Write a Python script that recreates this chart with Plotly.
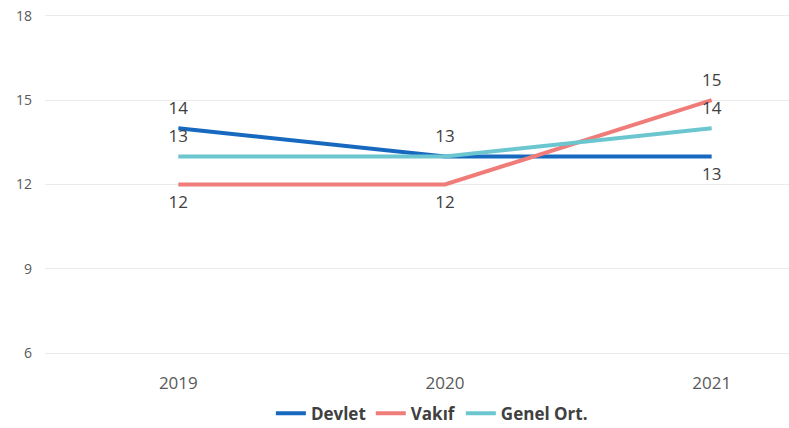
import plotly.graph_objects as go

years = ["2019", "2020", "2021"]
devlet = [14, 13, 13]
vakif = [12, 12, 15]
genel = [13, 13, 14]

devlet_text = ["14", "", "13"]
devlet_pos = ["top center", "top center", "bottom center"]
vakif_text = ["12", "12", "15"]
vakif_pos = ["bottom center", "bottom center", "top center"]
genel_text = ["13", "13", "14"]
genel_pos = ["top center", "top center", "top center"]

label_font = dict(family="Open Sans", size=17, color="#404040")

fig = go.Figure()
for name, vals, txt, pos, col in [
    ("Devlet", devlet, devlet_text, devlet_pos, "#1769C0"),
    ("Vakıf", vakif, vakif_text, vakif_pos, "#F07C7A"),
    ("Genel Ort.", genel, genel_text, genel_pos, "#6CC6CF"),
]:
    fig.add_trace(go.Scatter(x=[0, 1, 2], y=vals, name=name, mode="lines+markers+text",
                             line=dict(color=col, width=4),
                             marker=dict(size=15, color="rgba(0,0,0,0)"),
                             text=txt, textposition=pos, textfont=label_font,
                             hoverinfo="skip"))

fig.update_layout(
    width=789, height=428,
    margin=dict(l=45, r=0, t=13, b=72, autoexpand=False),
    paper_bgcolor="white", plot_bgcolor="white",
    font=dict(family="Open Sans", color="#595959"),
    xaxis=dict(range=[-0.5, 2.29], tickvals=[0, 1, 2], ticktext=years,
               showgrid=False, zeroline=False, showline=False,
               ticklabelstandoff=15,
               tickfont=dict(size=17, color="#595959")),
    yaxis=dict(range=[5.9, 18.1], tickvals=[6, 9, 12, 15, 18], showgrid=True,
               gridcolor="#EBEBEB", gridwidth=1, zeroline=False, showline=False,
               ticks="", ticklabelstandoff=12, tickfont=dict(size=14, color="#595959")),
    legend=dict(orientation="h", x=0.52, xanchor="center", y=-0.168, yanchor="middle",
                font=dict(family="Open Sans", size=17, color="#404040", weight="bold"),
                itemwidth=30, traceorder="normal"),
    showlegend=True,
)

fig.write_html("out.html", config={"displayModeBar": False},
               post_script="document.body.style.margin='0';")
